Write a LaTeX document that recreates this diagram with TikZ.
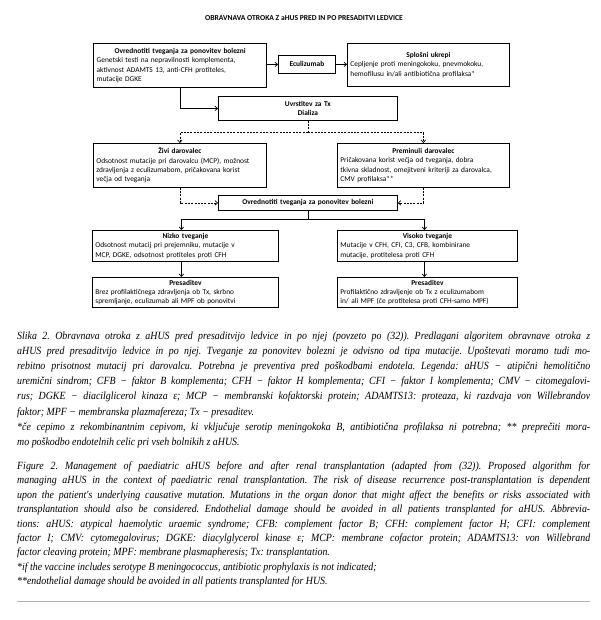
\documentclass[tikz,border=0pt]{standalone}
\usepackage{fontspec}
\setmainfont{Liberation Serif}
\newfontfamily\capfont[FakeStretch=0.9]{Liberation Serif}
\newfontfamily\diafont{Carlito}
\usetikzlibrary{arrows.meta,calc}
\newcommand\bxttl[1]{\noindent\makebox[\hsize]{\textbf{#1}}\\}
\begin{document}
\begin{tikzpicture}[x=1pt,y=-1pt,
  box/.style={draw, line width=0.8pt, anchor=north west, inner xsep=3pt, inner ysep=1pt,
    font=\diafont\fontsize{7.4}{9.3}\selectfont, align=left},
  cbox/.style={box, align=center, font=\diafont\bfseries\fontsize{7.4}{9.3}\selectfont},
  arr/.style={-{Straight Barb[length=2.5pt,width=4.5pt]}, line width=0.7pt},
  dsh/.style={dash pattern=on 2pt off 1.3pt, line width=0.7pt}]
\useasboundingbox (0,0) rectangle (600,620);

\node[font=\diafont\bfseries\fontsize{7.6}{9}\selectfont] (title) at (304,18) {OBRAVNAVA OTROKA Z aHUS PRED IN PO PRESADITVI LEDVICE};

\node[box, line width=1.3pt, text width=167pt, minimum height=44pt] (b1) at (93,43)
 {\bxttl{Ovrednotiti tveganja za ponovitev bolezni}Genetski testi na nepravilnosti komplementa,\\aktivnost ADAMTS 13, anti-CFH protiteles,\\mutacije DGKE};
\node[cbox, minimum width=57pt, minimum height=18pt] (ecu) at (278,55) {Eculizumab};
\node[box, text width=156pt, minimum height=43pt] (sp) at (347,43)
 {\bxttl{Splošni ukrepi}Cepljenje proti meningokoku, pnevmokoku,\\hemofilusu in/ali antibiotična profilaksa*\\[7pt]};
\node[cbox, text width=173pt, minimum height=24pt] (uv) at (218,96) {Uvrstitev za Tx\\Dializa};

\node[box, text width=167pt, minimum height=44pt] (zd) at (93,143)
 {\bxttl{Živi darovalec}Odsotnost mutacije pri darovalcu (MCP), možnost\\zdravljenja z eculizumabom, pričakovana korist\\večja od tveganja};
\node[box, text width=166pt, minimum height=44pt] (pd) at (337,143)
 {\bxttl{Preminuli darovalec}Pričakovana korist večja od tveganja, dobra\\tkivna skladnost, omejitveni kriteriji za darovalca,\\CMV profilaksa**};
\node[cbox, text width=173pt, minimum height=15pt] (ov2) at (218,195) {Ovrednotiti tveganja za ponovitev bolezni};

\node[box, text width=180pt, minimum height=31pt] (nt) at (92,230)
 {\bxttl{Nizko tveganje}Odsotnost mutacij pri prejemniku, mutacije v\\MCP, DGKE, odsotnost protiteles proti CFH};
\node[box, text width=174pt, minimum height=31pt] (vt) at (337,230)
 {\bxttl{Visoko tveganje}Mutacije v CFH, CFI, C3, CFB, kombinirane\\mutacije, protitelesa proti CFH};
\node[box, text width=180pt, minimum height=30pt] (pl) at (92,277)
 {\bxttl{Presaditev}Brez profilaktičnega zdravljenja ob Tx, skrbno\\spremljanje, eculizumab ali MPF ob ponovitvi};
\node[box, text width=174pt, minimum height=30pt] (pr) at (337,277)
 {\bxttl{Presaditev}Profilaktično zdravljenje ob Tx z eculizumabom\\in/ ali MPF (če protitelesa proti CFH-samo MPF)};

% connectors
\draw[arr] (b1.east |- ecu.west) -- (ecu.west);
\draw[arr] (ecu.east) -- (ecu.east -| sp.west);
\draw[arr] (b1.south) |- (uv.west);
\coordinate (j1) at ($(uv.south)+(0,12)$);
\draw[dsh] (uv.south) -- (j1);
\draw[dsh,arr] (j1) -| (zd.north);
\draw[dsh,arr] (j1) -| (pd.north);
\draw[dsh,arr] (zd.south) |- (ov2.west);
\draw[dsh,arr] (pd.south) |- (ov2.east);
\coordinate (j2) at ($(ov2.south)+(0,9)$);
\draw[line width=0.7pt] (ov2.south) -- (j2);
\draw[arr] (j2) -| ($(nt.north)+(-4,0)$);
\draw[arr] (j2) -| ($(vt.north)+(-3,0)$);
\draw[arr] ($(nt.south)+(-4,0)$) -- ($(pl.north)+(-4,0)$);
\draw[arr] ($(vt.south)+(-3,0)$) -- ($(pr.north)+(-3,0)$);

% captions
\node[anchor=base west, inner sep=0] (capsl) at (17,339.5) {\parbox[t]{573pt}{\capfont\fontsize{11}{15.1}\selectfont\itshape\frenchspacing
\makebox[\linewidth][s]{Slika 2. Obravnava otroka z aHUS pred presaditvijo ledvice in po njej (povzeto po (32)). Predlagani algoritem obravnave otroka z}\\
\makebox[\linewidth][s]{aHUS pred presaditvijo ledvice in po njej. Tveganje za ponovitev bolezni je odvisno od tipa mutacije. Upoštevati moramo tudi mo-}\\
\makebox[\linewidth][s]{rebitno prisotnost mutacij pri darovalcu. Potrebna je preventiva pred poškodbami endotela. Legenda: aHUS − atipični hemolitično}\\
\makebox[\linewidth][s]{uremični sindrom; CFB − faktor B komplementa; CFH − faktor H komplementa; CFI − faktor I komplementa; CMV − citomegalovi-}\\
\makebox[\linewidth][s]{rus; DGKE − diacilglicerol kinaza ε; MCP − membranski kofaktorski protein; ADAMTS13: proteaza, ki razdvaja von Willebrandov}\\
faktor; MPF − membranska plazmafereza; Tx − presaditev.\\
\makebox[\linewidth][s]{*če cepimo z rekombinantnim cepivom, ki vključuje serotip meningokoka B, antibiotična profilaksa ni potrebna; ** preprečiti mora-}\\
mo poškodbo endotelnih celic pri vseh bolnikih z aHUS.}};

\node[anchor=base west, inner sep=0] (capen) at (17,469.5) {\parbox[t]{573pt}{\capfont\fontsize{11}{14.4}\selectfont\itshape\frenchspacing
\makebox[\linewidth][s]{Figure 2. Management of paediatric aHUS before and after renal transplantation (adapted from (32)). Proposed algorithm for}\\
\makebox[\linewidth][s]{managing aHUS in the context of paediatric renal transplantation. The risk of disease recurrence post-transplantation is dependent}\\
\makebox[\linewidth][s]{upon the patient's underlying causative mutation. Mutations in the organ donor that might affect the benefits or risks associated with}\\
\makebox[\linewidth][s]{transplantation should also be considered. Endothelial damage should be avoided in all patients transplanted for aHUS. Abbrevia-}\\
\makebox[\linewidth][s]{tions: aHUS: atypical haemolytic uraemic syndrome; CFB: complement factor B; CFH: complement factor H; CFI: complement}\\
\makebox[\linewidth][s]{factor I; CMV: cytomegalovirus; DGKE: diacylglycerol kinase ε; MCP: membrane cofactor protein; ADAMTS13: von Willebrand}\\
factor cleaving protein; MPF: membrane plasmapheresis; Tx: transplantation.\\\relax
*if the vaccine includes serotype B meningococcus, antibiotic prophylaxis is not indicated;\\\relax
**endothelial damage should be avoided in all patients transplanted for HUS.}};

\draw[gray!60, line width=0.8pt] (17,601) -- (590,601);
\end{tikzpicture}
\end{document}
